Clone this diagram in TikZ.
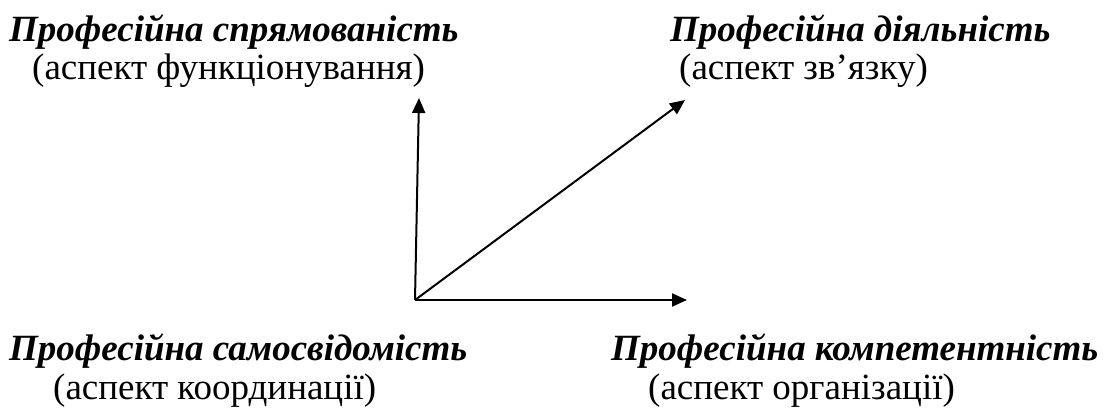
\documentclass[tikz,border=0pt]{standalone}
\usepackage{fontspec}
\setmainfont{Liberation Serif}
\usetikzlibrary{arrows.meta}
\begin{document}
\begin{tikzpicture}[x=1pt,y=-1pt,
  title/.style={anchor=base west,inner sep=0pt,font=\fontsize{37}{42}\selectfont\bfseries\itshape},
  sub/.style={anchor=base west,inner sep=0pt,font=\fontsize{37}{42}\selectfont},
  axis/.style={line width=2pt,-{Triangle[length=15pt,width=13pt]}}]
\useasboundingbox (0,0) rectangle (1109,409);
\node[title] (tl) at (9,42) {Професійна спрямованість};
\node[sub] (tls) at (32,80) {(аспект функціонування)};
\node[title] (tr) at (670,42) {Професійна діяльність};
\node[sub] (trs) at (679,80) {(аспект зв’язку)};
\node[title] (bl) at (9,360) {Професійна самосвідомість};
\node[sub] (bls) at (53,399) {(аспект координації)};
\node[title] (br) at (611,360) {Професійна компетентність};
\node[sub] (brs) at (648,399) {(аспект організації)};
\coordinate (o) at (415,300);
\coordinate (up) at (419,98);
\coordinate (diag) at (685,100);
\coordinate (right) at (687,300);
\draw[axis] (o) -- (up);
\draw[axis] (o) -- (diag);
\draw[axis] (o) -- (right);
\end{tikzpicture}
\end{document}
